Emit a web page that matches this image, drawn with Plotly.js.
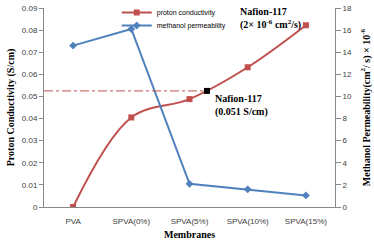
<!DOCTYPE html>
<html>
<head>
<meta charset="utf-8">
<script src="https://cdn.plot.ly/plotly-3.0.1.min.js"></script>
<style>html,body{margin:0;padding:0;background:#fff}#chart{width:374px;height:243px}</style>
</head>
<body>
<div id="chart"></div>
<script>
var membranes = ["PVA", "SPVA(0%)", "SPVA(5%)", "SPVA(10%)", "SPVA(15%)"];
var protonConductivity = [0, 0.0405, 0.0488, 0.0632, 0.0822];
var methanolPermeability = [14.6, 16.1, 2.1, 1.6, 1.05];
var nafionPosition = [2.3];
var nafionConductivity = [0.0525];
var nafionLabel = "Nafion-117<br>(0.051 S/cm)";
var nafionPermLabel = "Nafion-117<br>(2× 10<sup>-6</sup> cm<sup>2</sup>/s)";

var red = "#C0504D", blue = "#4F81BD";
var tickFont = {family: "Liberation Sans, Arial, sans-serif", size: 8, color: "#404040"};
var titleFont = {family: "Liberation Serif, Times New Roman, serif", size: 10, color: "#000"};
var legendFont = {family: "Liberation Sans, Arial, sans-serif", size: 7, color: "#000"};

var traces = [
  {x: membranes, y: protonConductivity, name: "proton conductivity", type: "scatter", mode: "lines+markers",
   line: {color: red, width: 2, shape: "spline", smoothing: 1}, marker: {symbol: "square", size: 6, color: red},
   yaxis: "y", legend: "legend"},
  {x: membranes, y: methanolPermeability, name: "methanol permeability", type: "scatter", mode: "lines+markers",
   line: {color: blue, width: 2}, marker: {symbol: "diamond", size: 6, color: blue}, yaxis: "y2", legend: "legend2"},
  {x: [-0.5, nafionPosition[0]], y: [nafionConductivity[0], nafionConductivity[0]], xaxis: "x3", type: "scatter", mode: "lines",
   line: {color: red, width: 1, dash: "dashdot"}, showlegend: false, hoverinfo: "skip"},
  {x: nafionPosition, y: nafionConductivity, xaxis: "x3", type: "scatter", mode: "markers",
   marker: {symbol: "square", size: 6, color: "#000"}, showlegend: false}
];

var layout = {
  width: 374, height: 243, autosize: false,
  margin: {l: 44, r: 39, t: 8, b: 36, autoexpand: false},
  paper_bgcolor: "#fff", plot_bgcolor: "#fff",
  showlegend: true,
  legend: {x: 0.25, y: 1.05, xanchor: "left", yanchor: "top", bgcolor: "rgba(0,0,0,0)", font: legendFont, itemwidth: 30},
  legend2: {x: 0.25, y: 0.985, xanchor: "left", yanchor: "top", bgcolor: "rgba(0,0,0,0)", font: legendFont, itemwidth: 30},
  xaxis: {type: "category", range: [-0.5, 4.5], showline: true, linecolor: "#888", linewidth: 1, ticks: "outside",
          ticklen: 6, tickcolor: "rgba(0,0,0,0)", showgrid: false, zeroline: false, tickfont: tickFont,
          title: {text: "<b>Membranes</b>", font: titleFont, standoff: 6}},
  xaxis3: {overlaying: "x", range: [-0.5, 4.5], visible: false},
  yaxis: {range: [0, 0.09], dtick: 0.01, showline: true, linecolor: "#888", linewidth: 1, ticks: "outside",
          ticklen: 4, tickcolor: "#888", showgrid: false, zeroline: false, tickfont: tickFont,
          title: {text: "<b>Proton Conductivity (S/cm)</b>", font: titleFont, standoff: 5}},
  yaxis2: {range: [0, 18], dtick: 2, overlaying: "y", side: "right", showline: true, linecolor: "#888", linewidth: 1,
           ticks: "outside", ticklen: 5, tickcolor: "#888", showgrid: false, zeroline: false, tickfont: tickFont,
           title: {text: "<b>Methanol Permeability(cm<sup>2</sup>/ s) × 10<sup>-6</sup></b>", font: titleFont, standoff: 11}},
  annotations: [
    {text: "<b>" + nafionLabel + "</b>", x: nafionPosition[0], y: nafionConductivity[0], xref: "x3", yref: "y",
     xanchor: "left", yanchor: "top", xshift: 6, yshift: 0, showarrow: false, align: "left",
     font: {family: "Liberation Serif, Times New Roman, serif", size: 10, color: "#000"}},
    {text: "<b>" + nafionPermLabel + "</b>", x: 0.78, y: 1.02, xref: "paper", yref: "paper",
     xanchor: "center", yanchor: "top", showarrow: false, align: "left",
     font: {family: "Liberation Serif, Times New Roman, serif", size: 10, color: "#000"}}
  ]
};

Plotly.newPlot("chart", traces, layout, {displayModeBar: false, staticPlot: true});
</script>
</body>
</html>
